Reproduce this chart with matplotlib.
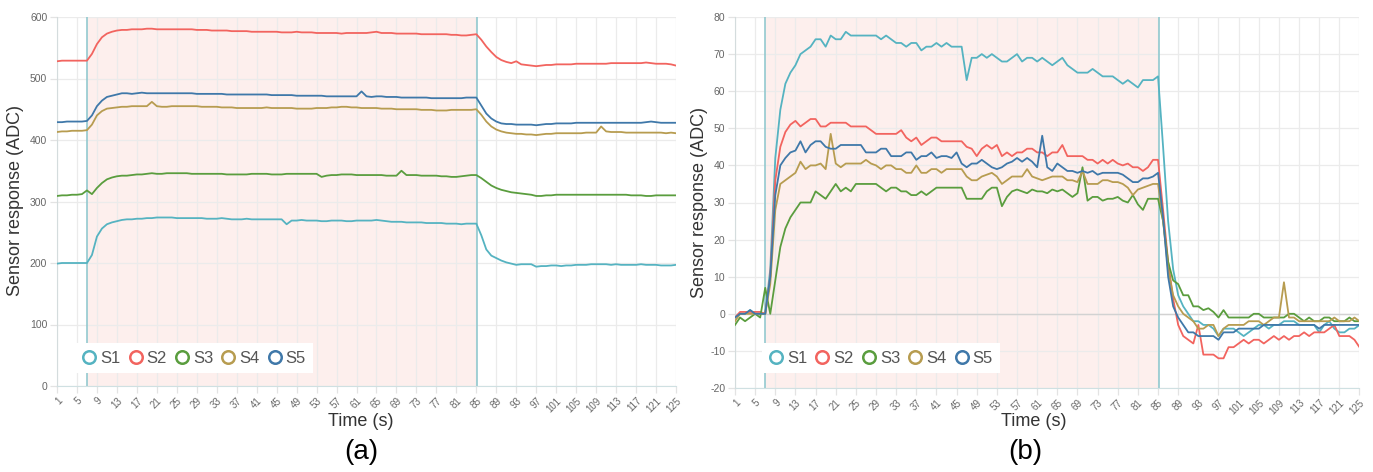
import matplotlib
matplotlib.use('Agg')
import matplotlib.pyplot as plt
from matplotlib.lines import Line2D

plt.rcParams['font.family'] = ['Liberation Sans', 'DejaVu Sans']

# ---------------- data ----------------
time_s = list(range(1, 126))
x_ticks = list(range(1, 126, 4))
series_names = ['S1', 'S2', 'S3', 'S4', 'S5']
exposure_start = 7
exposure_end = 85.2

a_yticks = [0, 100, 200, 300, 400, 500, 600]
b_yticks = [-20, -10, 0, 10, 20, 30, 40, 50, 60, 70, 80]

a_s1 = [199, 200, 200, 200, 200, 200, 200, 213, 243, 256,
        263, 266, 268, 270, 271, 271, 272, 272, 273, 273,
        274, 274, 274, 274, 273, 273, 273, 273, 273, 273,
        272, 272, 272, 273, 272, 271, 271, 271, 272, 271,
        271, 271, 271, 271, 271, 271, 263, 269, 269, 270,
        269, 269, 269, 268, 268, 269, 269, 269, 268, 268,
        269, 269, 269, 269, 270, 269, 268, 267, 267, 267,
        266, 266, 266, 266, 265, 265, 265, 265, 264, 264,
        264, 263, 264, 264, 264, 245, 222, 212, 208, 204,
        201, 199, 197, 198, 198, 198, 194, 195, 195, 196,
        196, 195, 196, 196, 197, 197, 197, 198, 198, 198,
        198, 197, 198, 197, 197, 197, 197, 198, 197, 197,
        197, 196, 196, 196, 197]
a_s2 = [528, 529, 529, 529, 529, 529, 529, 540, 556, 567,
        573, 576, 578, 579, 579, 580, 580, 580, 581, 581,
        580, 580, 580, 580, 580, 580, 580, 580, 579, 579,
        579, 578, 578, 578, 578, 577, 577, 577, 577, 576,
        576, 576, 576, 576, 576, 575, 575, 575, 576, 575,
        575, 575, 574, 574, 574, 574, 574, 573, 574, 574,
        574, 574, 574, 575, 576, 574, 574, 574, 573, 573,
        573, 573, 573, 572, 572, 572, 572, 572, 572, 571,
        571, 570, 570, 571, 572, 563, 552, 543, 535, 530,
        527, 525, 528, 523, 522, 521, 520, 521, 522, 522,
        523, 523, 523, 523, 524, 524, 524, 524, 524, 524,
        524, 525, 525, 525, 525, 525, 525, 525, 526, 525,
        524, 524, 524, 523, 521]
a_s3 = [309, 310, 310, 311, 311, 312, 318, 312, 322, 330,
        336, 339, 341, 342, 342, 343, 344, 344, 345, 346,
        345, 345, 346, 346, 346, 346, 346, 345, 345, 345,
        345, 345, 345, 345, 344, 344, 344, 344, 344, 345,
        345, 345, 345, 344, 344, 344, 345, 345, 345, 345,
        345, 345, 345, 340, 342, 343, 343, 344, 344, 344,
        343, 343, 343, 343, 343, 343, 342, 342, 342, 350,
        343, 343, 343, 342, 342, 342, 342, 341, 341, 340,
        340, 341, 342, 343, 343, 338, 332, 326, 322, 319,
        317, 315, 314, 313, 312, 311, 309, 309, 310, 310,
        311, 311, 311, 311, 311, 311, 311, 311, 311, 311,
        311, 311, 311, 311, 311, 310, 310, 310, 309, 309,
        310, 310, 310, 310, 310]
a_s4 = [413, 414, 414, 415, 415, 415, 416, 425, 440, 447,
        451, 452, 453, 454, 454, 455, 455, 455, 455, 462,
        455, 454, 454, 455, 455, 455, 455, 455, 455, 454,
        454, 454, 454, 453, 453, 453, 452, 452, 452, 452,
        452, 452, 453, 452, 452, 452, 452, 452, 451, 451,
        451, 451, 452, 452, 452, 453, 453, 454, 454, 453,
        453, 452, 452, 452, 452, 451, 451, 451, 450, 450,
        450, 450, 450, 449, 449, 449, 448, 448, 448, 449,
        449, 449, 449, 449, 450, 441, 430, 422, 417, 414,
        412, 411, 410, 410, 409, 409, 408, 409, 410, 410,
        411, 411, 411, 411, 411, 411, 412, 412, 412, 422,
        414, 413, 413, 413, 412, 412, 412, 412, 412, 412,
        412, 412, 411, 412, 411]
a_s5 = [429, 429, 430, 430, 430, 430, 431, 440, 455, 464,
        470, 472, 474, 476, 476, 475, 476, 477, 476, 476,
        476, 476, 476, 476, 476, 476, 476, 476, 475, 475,
        475, 475, 475, 475, 474, 474, 474, 474, 474, 474,
        474, 474, 474, 473, 473, 473, 473, 473, 472, 472,
        472, 472, 472, 472, 471, 471, 471, 471, 471, 471,
        471, 479, 471, 470, 471, 471, 470, 470, 470, 469,
        469, 469, 469, 469, 469, 468, 468, 468, 468, 468,
        468, 468, 469, 469, 469, 456, 443, 435, 430, 427,
        426, 426, 425, 425, 425, 425, 424, 425, 426, 426,
        427, 427, 427, 427, 428, 428, 428, 428, 428, 428,
        428, 428, 428, 428, 428, 428, 428, 428, 429, 430,
        429, 428, 428, 428, 428]

b_s1 = [-1, 0, 0, 1, 0, 0, 0, 12, 42, 55,
        62, 65, 67, 70, 71, 72, 74, 74, 72, 75,
        74, 74, 76, 75, 75, 75, 75, 75, 75, 74,
        75, 74, 73, 73, 72, 73, 73, 71, 72, 72,
        73, 72, 73, 72, 72, 72, 63, 69, 69, 70,
        69, 70, 69, 68, 68, 69, 70, 68, 69, 69,
        68, 69, 68, 67, 68, 69, 67, 66, 65, 65,
        65, 66, 65, 64, 64, 64, 63, 62, 63, 62,
        61, 63, 63, 63, 64, 45, 25, 12, 5, 2,
        0, -2, -2, -3, -3, -4, -6, -4, -4, -4,
        -5, -6, -5, -4, -3, -3, -4, -3, -3, -2,
        -2, -2, -3, -3, -3, -3, -5, -3, -2, -4,
        -5, -5, -4, -4, -3]
b_s2 = [-1, 0.5, 0.5, 0.5, 0.5, 0.5, 0, 10, 36, 45,
        49, 51, 52, 50.5, 51.5, 52.5, 52.5, 50.5, 50.5, 51.5,
        51.5, 51.5, 51.5, 50.5, 50.5, 50.5, 50.5, 49.5, 48.5, 48.5,
        48.5, 48.5, 48.5, 49.5, 47.5, 46.5, 47.5, 45.5, 46.5, 47.5,
        47.5, 46.5, 46.5, 46.5, 46.5, 46.5, 45, 44.5, 42.5, 44.5,
        45.5, 44.5, 45.5, 42.5, 43.5, 42.5, 43.5, 43.5, 44.5, 44.5,
        43.5, 43.5, 42.5, 43.5, 43.5, 45.5, 42.5, 42.5, 42.5, 42.5,
        41.5, 41.5, 40.5, 41.5, 40.5, 41.5, 40.5, 40, 40.5, 39.5,
        39.5, 38.5, 39.5, 41.5, 41.5, 28, 14, 4, -3, -6,
        -7, -8, -3, -11, -11, -11, -12, -12, -9, -9,
        -8, -7, -8, -7, -7, -8, -7, -6, -7, -6,
        -7, -6, -6, -5, -6, -5, -5, -5, -4, -3,
        -6, -6, -6, -7, -9]
b_s3 = [-3, -1, -2, -1, 0, -1, 7, 0, 9, 18,
        23, 26, 28, 30, 30, 30, 33, 32, 31, 33,
        35, 33, 34, 33, 35, 35, 35, 35, 35, 34,
        33, 34, 34, 33, 33, 32, 32, 33, 32, 33,
        34, 34, 34, 34, 34, 34, 31, 31, 31, 31,
        33, 34, 34, 29, 31.5, 33, 33.5, 33, 32.5, 33.5,
        33, 33, 32.5, 33.5, 33, 33.5, 32.5, 31.5, 32.5, 39.5,
        30.5, 31.5, 31.5, 30.5, 31, 31, 31.5, 30.5, 30, 32,
        29.5, 28, 31, 31, 31, 25, 14, 9, 8, 5,
        5, 2, 2, 1, 1.5, 0.5, -1, 1, -1, -1,
        -1, -1, -1, 0, 0, -1, -1, -1, -1, -1,
        0, 0, -1, -2, -1, -2, -2, -1, -1, -2,
        -2, -2, -1, -2, -2]
b_s4 = [-2, 0, 0, 0, 0, 0, 0, 8, 28, 35,
        36, 37, 38, 41, 39, 40, 40, 40.5, 39, 48.5,
        40.5, 39.5, 40.5, 40.5, 40.5, 40.5, 41.5, 40.5, 40, 39,
        40, 40, 39, 39, 38, 38, 40, 38, 38, 39,
        39, 38, 39, 39, 39, 39, 37, 36, 36, 37,
        37.5, 38, 37, 35, 36, 37, 37, 37, 39, 37,
        36.5, 36, 36.5, 37, 37, 37, 36, 36, 35.5, 38.5,
        35, 35, 35, 36, 36, 35.5, 35.5, 35, 34, 32,
        33.5, 34, 34.5, 35, 35, 25, 12, 5, 2, 0,
        -1, -2, -4, -4, -3, -3, -6, -4, -3, -3,
        -3, -3, -2, -2, -2, -3, -2, -1, -1, 8.5,
        -1, -1, -2, -2, -2, -2, -2, -2, -2, -1,
        -2, -2, -2, -1, -2]
b_s5 = [-1, 0, 0, 1, 0, 0, 0, 10, 32, 40,
        42, 43.5, 44, 46.5, 43.5, 45.5, 46.5, 46.5, 45, 44.5,
        44.5, 45.5, 45.5, 45.5, 45.5, 45.5, 43.5, 43.5, 43.5, 44.5,
        44.5, 42.5, 42.5, 42.5, 43.5, 43.5, 41.5, 42.5, 42.5, 43.5,
        42, 42.5, 42.5, 42, 43.5, 40.5, 39.5, 40.5, 40.5, 41.5,
        40.5, 39.5, 39, 39.5, 40.5, 41, 42, 41, 42, 41,
        39.5, 48, 39.5, 38.5, 40.5, 39.5, 38.5, 38.5, 38, 38.5,
        38, 38.5, 37.5, 38, 38, 38, 38, 37.5, 36.5, 35.5,
        35.5, 36.5, 36.5, 37, 38, 26, 10, 2, -1, -3,
        -5, -5, -6, -6, -6, -6, -7, -5, -5, -5,
        -4, -4, -4, -4, -4, -3, -3, -3, -3, -3,
        -3, -3, -3, -3, -3, -3, -4, -3, -3, -3,
        -3, -3, -3, -3, -3]

for arr in (a_s1, a_s2, a_s3, a_s4, a_s5, b_s1, b_s2, b_s3, b_s4, b_s5):
    assert len(arr) == len(time_s), len(arr)

# ---------------- style ----------------
colors = ['#55b3c1', '#f2645f', '#5a9d3e', '#b79c50', '#3f78a9']
W, H = 1373, 472

fig = plt.figure(figsize=(W / 100, H / 100), dpi=100)
fig.patch.set_facecolor('white')

ax_a = fig.add_axes([57 / W, 1 - 386 / H, 619 / W, 369 / H])
ax_b = fig.add_axes([735 / W, 1 - 388 / H, 624.5 / W, 371 / H])


def draw(ax, data, ylim, yticks, leg_anchor):
    ax.axvspan(exposure_start, exposure_end, color='#fdefed', lw=0, zorder=0.2)
    ax.set_axisbelow(True)
    ax.grid(True, color='#ebebeb', lw=0.9)
    if ylim[0] < 0 < ylim[1]:
        ax.axhline(0, color='#d2d2d2', lw=1.0, zorder=0.7)
    for vals, c in zip(data, colors):
        ax.plot(time_s, vals, color=c, lw=1.3, zorder=3, solid_joinstyle='round')
    for xv in (exposure_start, exposure_end):
        ax.axvline(xv, color='#93c9cf', lw=1.2, zorder=2.5)
    ax.set_xlim(1, 125)
    ax.set_ylim(*ylim)
    ax.set_yticks(yticks)
    ax.set_yticklabels([str(v) for v in yticks], fontsize=7.5, color='#666666')
    ax.set_xticks(x_ticks)
    ax.set_xticklabels([str(v) for v in x_ticks], rotation=45, ha='right',
                       rotation_mode='anchor', fontsize=7, color='#666666')
    ax.tick_params(axis='both', length=5, color='#e3e3e3', width=0.9, pad=2)
    for s in ('top', 'right'):
        ax.spines[s].set_visible(False)
    ax.spines['left'].set_color('#d4dcdd')
    ax.spines['bottom'].set_color('#cfe0e2')
    handles = [Line2D([], [], marker='o', ls='none', mfc='white', mec=c,
                      mew=1.8, ms=9) for c in colors]
    leg = ax.legend(handles, series_names, loc='lower left', bbox_to_anchor=leg_anchor,
                    ncol=5, frameon=True, fancybox=False, edgecolor='none',
                    facecolor='white', framealpha=1, fontsize=12,
                    handlelength=0.8, handletextpad=0.25, columnspacing=0.52,
                    borderpad=0.45, borderaxespad=0, labelcolor='#555555')
    leg.set_zorder(5)


draw(ax_a, [a_s1, a_s2, a_s3, a_s4, a_s5], (0, 600), a_yticks, (0.029, 0.035))
draw(ax_b, [b_s1, b_s2, b_s3, b_s4, b_s5], (-20, 80), b_yticks, (0.043, 0.04))

# axis titles and panel labels
fig.text(16 / W, 1 - 201 / H, 'Sensor response (ADC)', rotation=90, ha='center',
         va='center', fontsize=13, color='#333333')
fig.text(699 / W, 1 - 202 / H, 'Sensor response (ADC)', rotation=90, ha='center',
         va='center', fontsize=13, color='#333333')
fig.text(361 / W, 1 - 421 / H, 'Time (s)', ha='center', va='center',
         fontsize=13, color='#333333')
fig.text(1034 / W, 1 - 421 / H, 'Time (s)', ha='center', va='center',
         fontsize=13, color='#333333')
fig.text(361 / W, 1 - 452 / H, '(a)', ha='center', va='center',
         fontsize=20, color='black')
fig.text(1025 / W, 1 - 452 / H, '(b)', ha='center', va='center',
         fontsize=20, color='black')

fig.savefig('out.png', dpi=100, facecolor='white')
